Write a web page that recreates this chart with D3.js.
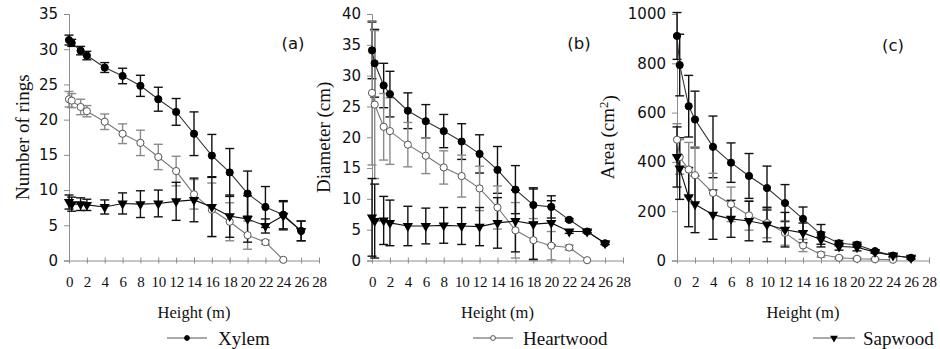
<!DOCTYPE html>
<html>
<head>
<meta charset="utf-8">
<script src="https://cdn.jsdelivr.net/npm/d3@7"></script>
<style>
  body { margin: 0; background: #fff; }
  svg { display: block; }
  .x-axis text { font-family: "Liberation Serif", serif; font-size: 15px; }
  .y-axis text { font-family: "DejaVu Sans", sans-serif; font-size: 15px; }
</style>
</head>
<body>
<svg id="chart" width="940" height="349"></svg>
<script>
// sampling heights along the stem (m)
const heights = [0, 0.3, 1.3, 2, 4, 6, 8, 10, 12, 14, 16, 18, 20, 22, 24, 26]
const xTicks = [0, 2, 4, 6, 8, 10, 12, 14, 16, 18, 20, 22, 24, 26, 28]

// (a) number of rings
const xylemRings = [31.3, 30.9, 29.8, 29.1, 27.4, 26.2, 24.8, 22.9, 21.1, 18.0, 14.9, 12.5, 9.5, 7.6, 6.5, 4.2]
const xylemRingsErr = [0.7, 0.5, 0.6, 0.6, 0.7, 1.1, 1.5, 1.7, 1.9, 3.1, 3.0, 3.4, 3.2, 2.9, 2.0, 1.4]
const heartRings = [22.9, 22.7, 21.8, 21.2, 19.7, 18.0, 16.7, 14.7, 12.7, 9.4, 7.2, 5.5, 3.6, 2.6, 0.1, null]
const heartRingsErr = [1.1, 1.0, 1.1, 0.8, 1.1, 1.4, 1.8, 1.8, 2.1, 2.1, 3.8, 2.7, 2.0, 0.3, 0, null]
const sapRings = [8.3, 8.0, 8.0, 7.9, 7.6, 8.1, 8.0, 8.1, 8.4, 8.6, 7.6, 6.3, 5.9, 4.9, 6.35, 4.2]
const sapRingsErr = [1.0, 1.0, 0.9, 0.8, 1.0, 1.5, 1.9, 1.9, 2.7, 3.1, 4.2, 3.0, 3.3, 1.0, 2.0, 1.4]

// (b) diameter (cm)
const xylemDiam = [34.1, 32.0, 28.4, 27.0, 24.3, 22.6, 21.0, 19.3, 17.3, 14.7, 11.5, 9.0, 8.7, 6.6, 4.7, 2.8]
const xylemDiamErr = [4.6, 5.5, 3.6, 3.7, 2.9, 2.7, 2.7, 2.9, 3.1, 3.8, 3.9, 2.8, 1.8, 0.2, 0.2, 0.2]
const heartDiam = [27.2, 25.3, 21.7, 21.0, 18.8, 17.0, 15.1, 13.7, 11.7, 8.6, 4.9, 3.3, 2.4, 2.1, 0.05, null]
const heartDiamErr = [11.7, 12.0, 5.4, 5.4, 3.6, 2.9, 2.7, 3.4, 3.6, 3.5, 4.5, 3.5, 2.3, 0.4, 0, null]
const sapDiam = [7.0, 6.4, 6.5, 6.1, 5.6, 5.6, 5.7, 5.6, 5.5, 6.1, 6.4, 5.9, 6.1, 4.7, 4.7, 2.8]
const sapDiamErr = [6.3, 6.0, 3.9, 3.7, 3.2, 2.9, 2.9, 3.0, 3.1, 4.1, 5.0, 5.7, 3.6, 0.3, 0.2, 0.2]

// (c) area (cm2)
const xylemArea = [911, 793, 626, 572, 461, 397, 343, 294, 233, 169, 106, 70, 64, 38, 20, 11]
const xylemAreaErr = [95, 125, 125, 115, 125, 80, 91, 89, 75, 48, 40, 11, 10, 5, 5, 5]
const heartArea = [490, 420, 369, 346, 274, 228, 183, 152, 112, 61, 24, 11, 7, 5, 3, null]
const heartAreaErr = [65, 70, 110, 115, 80, 70, 60, 60, 50, 25, 10, 5, 5, 3, 2, null]
const sapArea = [420, 373, 257, 228, 186, 169, 160, 146, 125, 112, 85, 57, 54, 34, 20, 11]
const sapAreaErr = [122, 125, 120, 115, 100, 75, 80, 70, 70, 40, 30, 15, 15, 5, 5, 5]

const seriesNames = ['Xylem', 'Heartwood', 'Sapwood']

// series styles
const styles = {
    Xylem: { line: '#333', err: '#111', fill: '#000', stroke: '#000', shape: 'circle' },
    Heartwood: { line: '#777', err: '#8a8a8a', fill: '#fff', stroke: '#555', shape: 'circle' },
    Sapwood: { line: '#111', err: '#111', fill: '#000', stroke: '#000', shape: 'triangle' },
}

const panels = [
    { tag: '(a)', title: 'Number of rings', x0: 69, x1: 319, yMax: 35, yStep: 5, titleX: 22, tagX: 293, tagY: 43,
      series: [[xylemRings, xylemRingsErr], [heartRings, heartRingsErr], [sapRings, sapRingsErr]] },
    { tag: '(b)', title: 'Diameter (cm)', x0: 372, x1: 623, yMax: 40, yStep: 5, titleX: 323, tagX: 579, tagY: 43,
      series: [[xylemDiam, xylemDiamErr], [heartDiam, heartDiamErr], [sapDiam, sapDiamErr]] },
    { tag: '(c)', title: 'Area (cm', sup: '2', x0: 677, x1: 929, yMax: 1000, yStep: 200, titleX: 607, tagX: 893, tagY: 45,
      series: [[xylemArea, xylemAreaErr], [heartArea, heartAreaErr], [sapArea, sapAreaErr]] },
]

const yTop = 14
const yBottom = 260.5

const svg = d3.select('#chart')

const triangle = d3.symbol().type(d3.symbolTriangle).size(46)
const smallTriangle = d3.symbol().type(d3.symbolTriangle).size(26)

function drawMarker(g, shape, x, y, st, small) {
    if (shape === 'circle') {
        g.append('circle')
            .attr('cx', x).attr('cy', y)
            .attr('r', small ? 2.4 : 3.6)
            .attr('fill', st.fill)
            .attr('stroke', st.stroke)
            .attr('stroke-width', 1)
    } else {
        g.append('path')
            .attr('d', small ? smallTriangle() : triangle())
            .attr('transform', `translate(${x},${y}) rotate(180)`)
            .attr('fill', st.fill)
    }
}

panels.forEach(p => {
    const x = d3.scaleLinear().domain([0, 28]).range([p.x0, p.x1])
    const y = d3.scaleLinear().domain([0, p.yMax]).range([yBottom, yTop])

    const g = svg.append('g')

    // y axis
    const yAxis = d3.axisLeft(y)
        .tickValues(d3.range(0, p.yMax + 1, p.yStep))
        .tickSize(5)
        .tickPadding(6)
        .tickFormat(d3.format('d'))
    const ya = g.append('g')
        .attr('class', 'y-axis')
        .attr('transform', `translate(${p.x0},0)`)
        .call(yAxis)
        .attr('font-family', null)
        .attr('font-size', null)
    ya.select('.domain').attr('stroke', '#8c8c8c')
    ya.selectAll('.tick line').attr('stroke', '#8c8c8c')
    ya.selectAll('.tick text').attr('fill', '#111')

    // x axis
    const xAxis = d3.axisBottom(x)
        .tickValues(xTicks)
        .tickSize(3)
        .tickSizeOuter(0)
        .tickFormat(d3.format('d'))
    const xa = g.append('g')
        .attr('class', 'x-axis')
        .attr('transform', `translate(0,${yBottom})`)
        .call(xAxis)
        .attr('font-family', null)
        .attr('font-size', null)
    xa.select('.domain').attr('stroke', '#8c8c8c')
    xa.selectAll('.tick line').attr('stroke', '#8c8c8c').attr('y1', -3)
    xa.selectAll('.tick text')
        .attr('y', 16)
        .attr('fill', '#111')
        .style('letter-spacing', '-0.3px')

    // y title
    const t = g.append('text')
        .attr('transform', `translate(${p.titleX},${(yTop + yBottom) / 2}) rotate(-90)`)
        .attr('text-anchor', 'middle')
        .attr('dy', '0.35em')
        .style('font-family', '"Liberation Serif", serif')
        .style('font-size', '19px')
        .attr('fill', '#111')
        .text(p.title)
    if (p.sup) {
        t.append('tspan').attr('dy', '-0.45em').style('font-size', '13px').text(p.sup)
        t.append('tspan').attr('dy', '0.45em').text(')')
    }

    // panel tag
    g.append('text')
        .attr('x', p.tagX).attr('y', p.tagY)
        .attr('dy', '0.35em')
        .attr('text-anchor', 'middle')
        .style('font-family', '"DejaVu Sans", sans-serif')
        .style('font-size', '16.5px')
        .attr('fill', '#111')
        .text(p.tag)

    // x title
    g.append('text')
        .attr('x', (p.x0 + p.x1) / 2).attr('y', 318)
        .attr('text-anchor', 'middle')
        .style('font-family', '"Liberation Serif", serif')
        .style('font-size', '16.5px')
        .attr('fill', '#111')
        .text('Height (m)')

    // error bars
    p.series.forEach(([vals, errs], si) => {
        const st = styles[seriesNames[si]]
        const eg = g.append('g').attr('stroke', st.err).attr('stroke-width', 1.4)
        heights.forEach((h, i) => {
            if (vals[i] == null || !errs[i]) return
            const cx = x(h)
            const lo = y(Math.max(0, vals[i] - errs[i]))
            const hi = y(vals[i] + errs[i])
            eg.append('line').attr('x1', cx).attr('x2', cx).attr('y1', lo).attr('y2', hi)
            eg.append('line').attr('x1', cx - 4.5).attr('x2', cx + 4.5).attr('y1', lo).attr('y2', lo)
            eg.append('line').attr('x1', cx - 4.5).attr('x2', cx + 4.5).attr('y1', hi).attr('y2', hi)
        })
    })

    // lines and markers
    p.series.forEach(([vals], si) => {
        const st = styles[seriesNames[si]]
        const pts = heights.map((h, i) => [h, vals[i]]).filter(d => d[1] != null)
        const line = d3.line().x(d => x(d[0])).y(d => y(d[1]))
        g.append('path')
            .datum(pts)
            .attr('d', line)
            .attr('fill', 'none')
            .attr('stroke', st.line)
            .attr('stroke-width', 1.1)
        const mg = g.append('g')
        pts.forEach(d => drawMarker(mg, st.shape, x(d[0]), y(d[1]), st, false))
    })
})

// legend
const legendItems = [
    { name: 'Xylem', x0: 167, x1: 207, tx: 218 },
    { name: 'Heartwood', x0: 473, x1: 513, tx: 523 },
    { name: 'Sapwood', x0: 813, x1: 855, tx: 863 },
]
const legendY = 338
const lg = svg.append('g')
legendItems.forEach(it => {
    const st = styles[it.name]
    lg.append('line')
        .attr('x1', it.x0).attr('x2', it.x1)
        .attr('y1', legendY).attr('y2', legendY)
        .attr('stroke', '#555').attr('stroke-width', 1.2)
    drawMarker(lg, st.shape, (it.x0 + it.x1) / 2, legendY, st, true)
    lg.append('text')
        .attr('x', it.tx).attr('y', legendY)
        .attr('dy', '0.35em')
        .style('font-family', '"Liberation Serif", serif')
        .style('font-size', '19px')
        .attr('fill', '#111')
        .text(it.name)
})
</script>
</body>
</html>
